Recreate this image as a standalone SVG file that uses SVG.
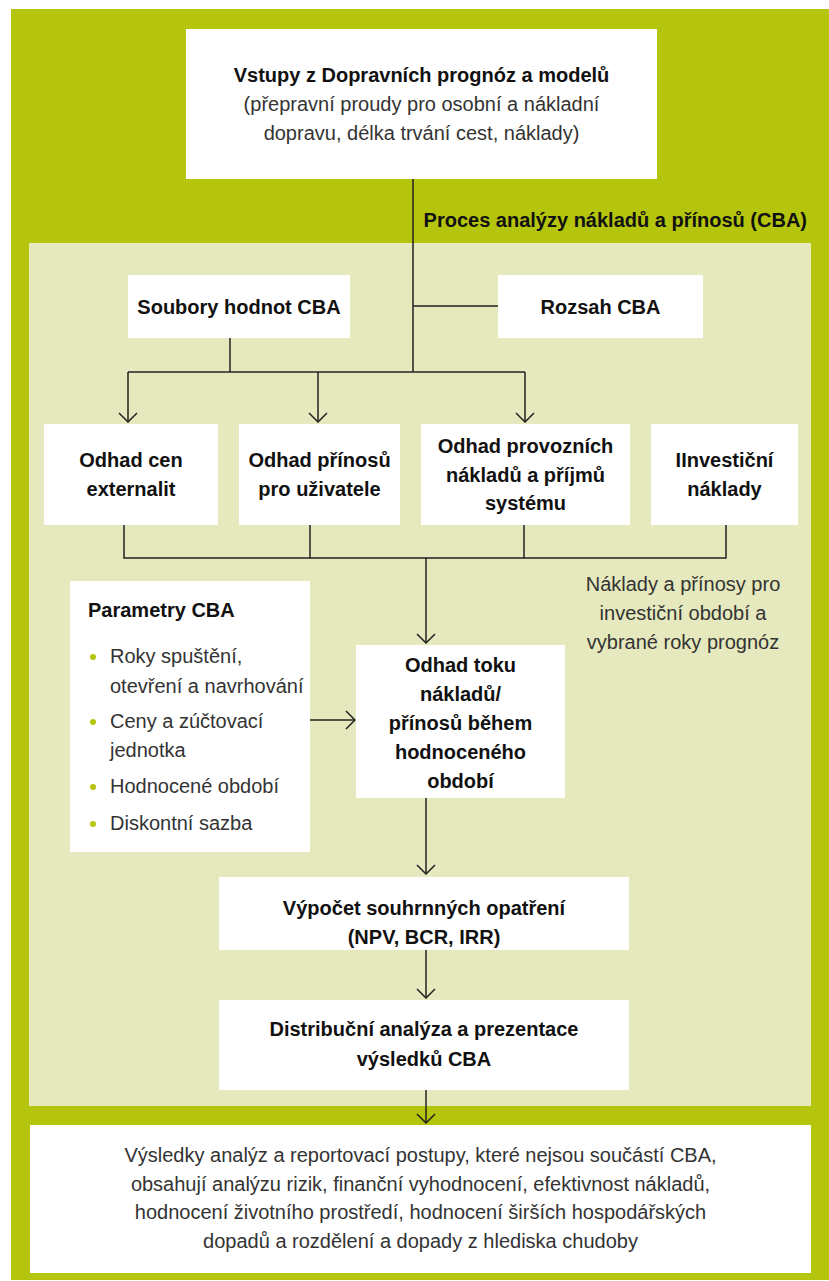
<svg xmlns="http://www.w3.org/2000/svg" width="829" height="1281" viewBox="0 0 829 1281">
  <style>
    .frame { fill: #b5c40d; }
    .panel { fill: #e5e9bd; }
    .box { fill: #ffffff; }
    .b { font-family: "Liberation Sans", Arial, sans-serif; font-weight: bold; font-size: 20px; fill: #111111; }
    .r { font-family: "Liberation Sans", Arial, sans-serif; font-size: 20px; fill: #333333; }
    .c { text-anchor: middle; }
    .ln { fill: none; stroke: #222222; stroke-width: 1.5; }
    .dot { fill: #b5c40d; }
  </style>
  <defs>
    <marker id="arr" viewBox="0 0 20 20" refX="19" refY="10" markerWidth="20" markerHeight="20" markerUnits="userSpaceOnUse" orient="auto">
      <path d="M10,1 L19,10 L10,19" fill="none" stroke="#222222" stroke-width="1.5"/>
    </marker>
  </defs>

  <!-- background frame and process panel -->
  <rect class="frame" x="11" y="9" width="818" height="1271"/>
  <rect class="panel" x="29" y="243" width="782" height="863"/>
  <text class="b" x="807" y="227" text-anchor="end">Proces analýzy nákladů a přínosů (CBA)</text>

  <!-- connectors -->
  <g id="connectors">
    <path class="ln" d="M413,179 V372"/>
    <path class="ln" d="M413,306 H498"/>
    <path class="ln" d="M230,338 V372"/>
    <path class="ln" d="M128,372 H525"/>
    <path class="ln" d="M128,372 V422" marker-end="url(#arr)"/>
    <path class="ln" d="M318,372 V422" marker-end="url(#arr)"/>
    <path class="ln" d="M525,372 V422" marker-end="url(#arr)"/>
    <path class="ln" d="M124,525 V558 H726 V525"/>
    <path class="ln" d="M310,525 V558"/>
    <path class="ln" d="M524,525 V558"/>
    <path class="ln" d="M426,558 V643" marker-end="url(#arr)"/>
    <path class="ln" d="M308,720 H355" marker-end="url(#arr)"/>
    <path class="ln" d="M426,798 V874" marker-end="url(#arr)"/>
    <path class="ln" d="M426,950 V998" marker-end="url(#arr)"/>
    <path class="ln" d="M426,1090 V1123" marker-end="url(#arr)"/>
  </g>

  <g id="inputs">
    <rect class="box" x="186" y="29" width="471" height="150"/>
    <text class="b c" x="421.5" y="82">Vstupy z Dopravních prognóz a modelů</text>
    <text class="r c" x="421.5" y="111">(přepravní proudy pro osobní a nákladní</text>
    <text class="r c" x="421.5" y="140">dopravu, délka trvání cest, náklady)</text>
  </g>

  <g id="value-sets">
    <rect class="box" x="128" y="275" width="222" height="63"/>
    <text class="b c" x="239" y="314">Soubory hodnot CBA</text>
  </g>

  <g id="scope">
    <rect class="box" x="498" y="275" width="205" height="63"/>
    <text class="b c" x="600.5" y="314">Rozsah CBA</text>
  </g>

  <g id="externalities">
    <rect class="box" x="44" y="424" width="174" height="101"/>
    <text class="b c" x="131" y="467">Odhad cen</text>
    <text class="b c" x="131" y="496">externalit</text>
  </g>

  <g id="user-benefits">
    <rect class="box" x="239" y="424" width="161" height="101"/>
    <text class="b c" x="319.5" y="467">Odhad přínosů</text>
    <text class="b c" x="319.5" y="496">pro uživatele</text>
  </g>

  <g id="operating-costs">
    <rect class="box" x="421" y="424" width="209" height="101"/>
    <text class="b c" x="525.5" y="453">Odhad provozních</text>
    <text class="b c" x="525.5" y="482">nákladů a příjmů</text>
    <text class="b c" x="525.5" y="510">systému</text>
  </g>

  <g id="investment-costs">
    <rect class="box" x="651" y="424" width="147" height="101"/>
    <text class="b c" x="724.5" y="467">IInvestiční</text>
    <text class="b c" x="724.5" y="496">náklady</text>
  </g>

  <g id="note">
    <text class="r c" x="683" y="591">Náklady a přínosy pro</text>
    <text class="r c" x="683" y="620">investiční období a</text>
    <text class="r c" x="683" y="649">vybrané roky prognóz</text>
  </g>

  <g id="parameters">
    <rect class="box" x="70" y="581" width="240" height="271"/>
    <text class="b" x="88" y="617">Parametry CBA</text>
    <circle class="dot" cx="93" cy="657" r="3"/>
    <text class="r" x="110" y="663">Roky spuštění,</text>
    <text class="r" x="110" y="693">otevření a navrhování</text>
    <circle class="dot" cx="93" cy="722" r="3"/>
    <text class="r" x="110" y="728">Ceny a zúčtovací</text>
    <text class="r" x="110" y="757">jednotka</text>
    <circle class="dot" cx="93" cy="787" r="3"/>
    <text class="r" x="110" y="793">Hodnocené období</text>
    <circle class="dot" cx="93" cy="824" r="3"/>
    <text class="r" x="110" y="830">Diskontní sazba</text>
  </g>

  <g id="cash-flow">
    <rect class="box" x="356" y="645" width="209" height="153"/>
    <text class="b c" x="460.5" y="672">Odhad toku</text>
    <text class="b c" x="460.5" y="701">nákladů/</text>
    <text class="b c" x="460.5" y="730">přínosů během</text>
    <text class="b c" x="460.5" y="759">hodnoceného</text>
    <text class="b c" x="460.5" y="788">období</text>
  </g>

  <g id="summary-measures">
    <rect class="box" x="219" y="877" width="410" height="73"/>
    <text class="b c" x="424" y="915">Výpočet souhrnných opatření</text>
    <text class="b c" x="424" y="944">(NPV, BCR, IRR)</text>
  </g>

  <g id="distribution">
    <rect class="box" x="219" y="1000" width="410" height="90"/>
    <text class="b c" x="424" y="1036">Distribuční analýza a prezentace</text>
    <text class="b c" x="424" y="1066">výsledků CBA</text>
  </g>

  <g id="results">
    <rect class="box" x="30" y="1125" width="781" height="148"/>
    <text class="r c" x="420.5" y="1162">Výsledky analýz a reportovací postupy, které nejsou součástí CBA,</text>
    <text class="r c" x="420.5" y="1191">obsahují analýzu rizik, finanční vyhodnocení, efektivnost nákladů,</text>
    <text class="r c" x="420.5" y="1219">hodnocení životního prostředí, hodnocení širších hospodářských</text>
    <text class="r c" x="420.5" y="1248">dopadů a rozdělení a dopady z hlediska chudoby</text>
  </g>
</svg>
